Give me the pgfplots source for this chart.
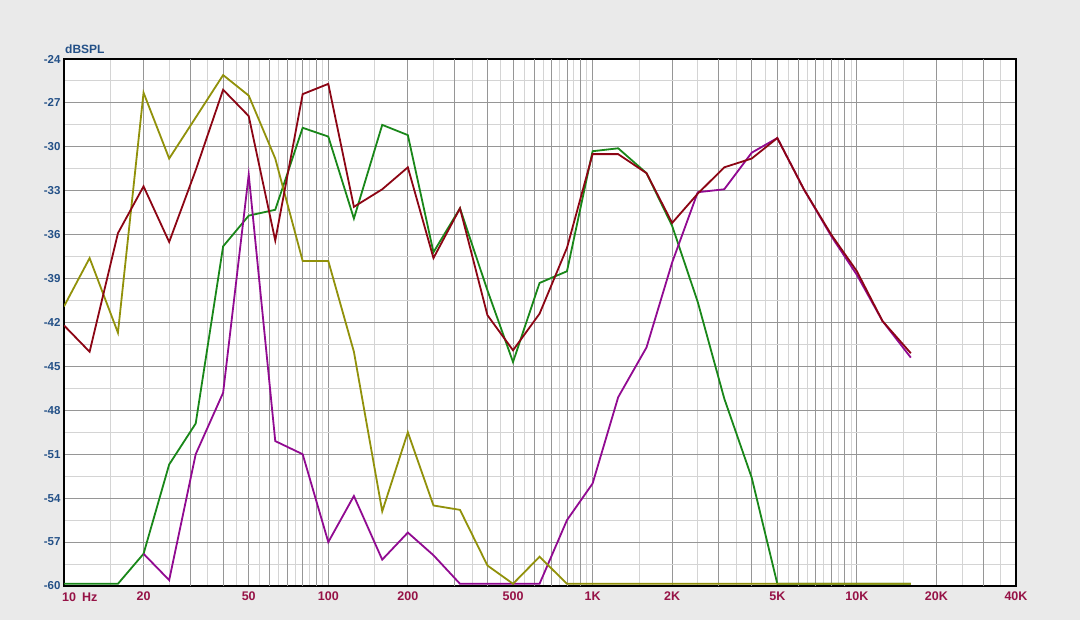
\documentclass[border=0pt]{standalone}
\usepackage{fontspec}
\setmainfont{Liberation Sans}
\usepackage{pgfplots}
\pgfplotsset{compat=1.18}
\definecolor{bgc}{RGB}{234,234,234}
\definecolor{ytc}{RGB}{35,80,135}
\definecolor{xtc}{RGB}{150,18,70}
\definecolor{olivec}{RGB}{145,145,10}
\definecolor{redc}{RGB}{140,5,20}
\definecolor{greenc}{RGB}{25,135,25}
\definecolor{purplec}{RGB}{145,10,145}
\definecolor{gmaj}{RGB}{150,150,150}
\definecolor{gmin}{RGB}{212,212,212}
\begin{document}
\begin{tikzpicture}[x=1pt,y=1pt]
\fill[bgc] (0,0) rectangle (1080,620);
\begin{axis}[
  at={(64pt,34pt)}, anchor=south west,
  scale only axis, width=952pt, height=527pt,
  xmode=log, xmin=10, xmax=40000, ymin=-60, ymax=-24,
  axis background/.style={fill=white},
  axis line style={black, line width=1.5pt},
  ytick={-60,-57,-54,-51,-48,-45,-42,-39,-36,-33,-30,-27,-24},
  yticklabels={-60,-57,-54,-51,-48,-45,-42,-39,-36,-33,-30,-27,-24},
  minor ytick={-58.5,-55.5,-52.5,-49.5,-46.5,-43.5,-40.5,-37.5,-34.5,-31.5,-28.5,-25.5},
  xtick={20,50,100,200,500,1000,2000,5000,10000,20000,40000},
  xticklabels={20,50,100,200,500,1K,2K,5K,10K,20K,40K},
  extra x ticks={30,40,60,70,80,90,300,400,600,700,800,900,3000,4000,6000,7000,8000,9000,30000},
  extra x tick labels={},
  extra x tick style={grid=major, major grid style={gmaj, line width=0.9pt}},
  minor xtick={15,25,35,45,55,65,75,85,95,150,250,350,450,550,650,750,850,950,1500,2500,3500,4500,5500,6500,7500,8500,9500,15000,25000,35000},
  grid=both,
  major grid style={gmaj, line width=0.9pt},
  minor grid style={gmin, line width=0.9pt},
  major tick length=0pt, minor tick length=0pt,
  xticklabel style={font=\bfseries\fontsize{12.5}{14}\selectfont, text=xtc, yshift=-2.4pt},
  yticklabel style={font=\bfseries\fontsize{11.5}{13}\selectfont, text=ytc},
  clip=true,
]
\addplot[greenc, line width=1.8pt] coordinates {
(10,-59.85) (12.5,-59.85) (16,-59.85) (20,-57.8) (25,-51.7) (31.5,-48.9) (40,-36.8) (50,-34.7) (63,-34.3) (80,-28.7) (100,-29.3) (125,-34.9) (160,-28.5) (200,-29.2) (250,-37.2) (315,-34.2) (400,-39.8) (500,-44.7) (630,-39.3) (800,-38.5) (1000,-30.3) (1250,-30.1) (1600,-31.8) (2000,-35.4) (2500,-40.6) (3150,-47.2) (4000,-52.6) (5000,-59.85) (6300,-59.85) (8000,-59.85) (10000,-59.85) (12500,-59.85) (16000,-59.85)
};
\addplot[purplec, line width=1.8pt] coordinates {
(20,-57.8) (25,-59.6) (31.5,-51.0) (40,-46.8) (50,-31.9) (63,-50.1) (80,-51.0) (100,-57.0) (125,-53.85) (160,-58.2) (200,-56.35) (250,-57.9) (315,-59.85) (400,-59.85) (500,-59.85) (630,-59.85) (800,-55.5) (1000,-53.0) (1250,-47.1) (1600,-43.7) (2000,-37.9) (2500,-33.1) (3150,-32.9) (4000,-30.4) (5000,-29.4) (6300,-32.9) (8000,-36.1) (10000,-38.75) (12500,-41.9) (16000,-44.4)
};
\addplot[olivec, line width=1.8pt] coordinates {
(10,-40.9) (12.5,-37.6) (16,-42.7) (20,-26.3) (25,-30.8) (31.5,-28.0) (40,-25.1) (50,-26.5) (63,-30.8) (80,-37.8) (100,-37.8) (125,-44.0) (160,-54.9) (200,-49.5) (250,-54.5) (315,-54.8) (400,-58.6) (500,-59.85) (630,-58.0) (800,-59.85) (1000,-59.85) (1250,-59.85) (1600,-59.85) (2000,-59.85) (2500,-59.85) (3150,-59.85) (4000,-59.85) (5000,-59.85) (6300,-59.85) (8000,-59.85) (10000,-59.85) (12500,-59.85) (16000,-59.85)
};
\addplot[redc, line width=1.8pt] coordinates {
(10,-42.2) (12.5,-44.0) (16,-35.9) (20,-32.7) (25,-36.5) (31.5,-31.6) (40,-26.1) (50,-27.9) (63,-36.4) (80,-26.4) (100,-25.7) (125,-34.1) (160,-32.9) (200,-31.4) (250,-37.6) (315,-34.2) (400,-41.5) (500,-43.9) (630,-41.4) (800,-36.9) (1000,-30.5) (1250,-30.5) (1600,-31.8) (2000,-35.2) (2500,-33.2) (3150,-31.4) (4000,-30.8) (5000,-29.4) (6300,-32.9) (8000,-36.0) (10000,-38.5) (12500,-41.9) (16000,-44.1)
};
\end{axis}
\node[anchor=north west, inner sep=0pt, font=\bfseries\fontsize{12.5}{14}\selectfont, text=xtc] at (62,620-592.5) {10\hspace{6pt}Hz};
\node[anchor=base west, inner sep=0pt, font=\bfseries\fontsize{12}{14}\selectfont, text=ytc] at (65,620-54) {dBSPL};
\pgfresetboundingbox
\useasboundingbox (0,0) rectangle (1080,620);
\end{tikzpicture}
\end{document}
